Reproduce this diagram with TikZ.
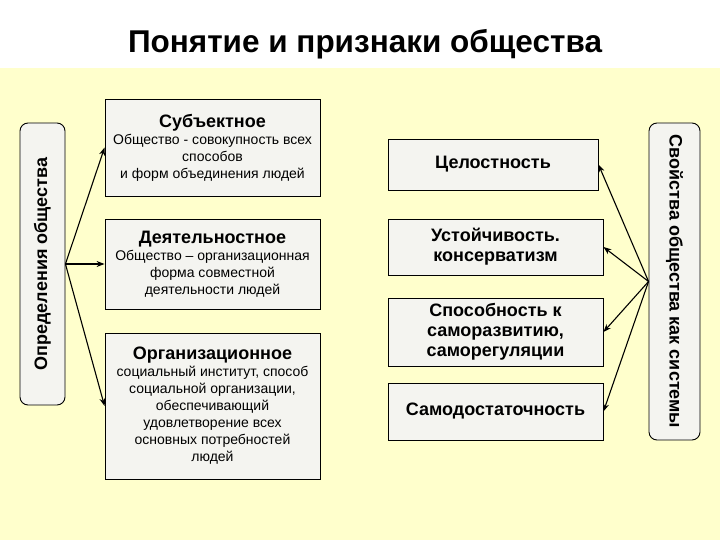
\documentclass[tikz,border=0pt]{standalone}
\usepackage{fontspec}
\setmainfont{Liberation Sans}
\usepackage{tikz}
\usetikzlibrary{arrows.meta}
\definecolor{slideyellow}{RGB}{255,255,204}
\definecolor{boxgray}{RGB}{244,244,240}

\begin{document}
\begin{tikzpicture}[x=1pt,y=-1pt,>=Stealth,
    box/.style={draw=black,fill=boxgray,line width=0.9pt,align=center,inner sep=0pt,font=\fontsize{14}{17}\selectfont},
    prop/.style={box,minimum width=215pt,font=\fontsize{18}{20}\selectfont\bfseries},
    side/.style={draw=black,fill=boxgray,line width=0.9pt,rounded corners=8pt,inner sep=0pt,font=\fontsize{18}{20}\selectfont\bfseries},
    arr/.style={->,line width=1.1pt}]
  \useasboundingbox (0,0) rectangle (720,540);
  % background and title
  \fill[slideyellow] (0,68) rectangle (720,540);
  \node[font=\fontsize{31.5}{36}\selectfont\bfseries] (title) at (365,44) {Понятие и признаки общества};
  % two rotated side boxes
  \node[side,rotate=90,minimum width=282pt,minimum height=45pt] (defn) at (42.5,264) {Определения общества};
  \node[side,rotate=-90,minimum width=317pt,minimum height=51pt] (props) at (674.5,281.5) {Свойства общества как системы};
  % definitions
  \node[box,minimum width=215pt,minimum height=97pt] (subj) at (212.5,147.5)
    {{\fontsize{18}{20}\selectfont\bfseries Субъектное}\\Общество - совокупность всех\\способов\\и форм объединения людей};
  \node[box,minimum width=215pt,minimum height=90pt] (act) at (212.5,264)
    {{\fontsize{18}{20}\selectfont\bfseries Деятельностное}\\Общество – организационная\\форма совместной\\деятельности людей};
  \node[box,minimum width=215pt,minimum height=146pt] (org) at (212.5,406)
    {{\fontsize{18}{20}\selectfont\bfseries Организационное}\\социальный институт, способ\\социальной организации,\\обеспечивающий\\удовлетворение всех\\основных потребностей\\людей};
  % properties
  \node[prop,minimum width=210pt,minimum height=51pt] (whole) at (493,164.5) {Целостность};
  \node[prop,minimum height=56pt] (stab) at (495.5,247) {Устойчивость.\\консерватизм};
  \node[prop,minimum height=68pt] (self) at (495.5,332) {Способность к\\саморазвитию,\\саморегуляции};
  \node[prop,minimum height=57pt] (suff) at (495.5,411.5) {Самодостаточность};
  % arrows
  \foreach \t in {subj,act,org}
    \draw[arr] (defn.south) -- (\t.west);
  \foreach \t in {whole,stab,self,suff}
    \draw[arr] (props.south) -- (\t.east);
\end{tikzpicture}
\end{document}
